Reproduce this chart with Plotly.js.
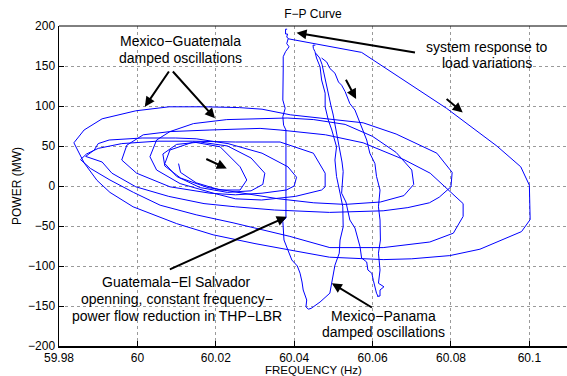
<!DOCTYPE html>
<html>
<head>
<meta charset="utf-8">
<script src="https://cdn.plot.ly/plotly-3.0.1.min.js"></script>
<style>html,body{margin:0;padding:0;background:#fff;}#chart{width:567px;height:376px;}</style>
</head>
<body>
<div id="chart"></div>
<script>
// ---- data (frequency in Hz, power in MW) ----
const loadRespF = [60.0385,60.0475,60.0572,60.0665,60.0789,60.0917,60.0978,60.1000,60.1002,60.0980,60.0950,60.0874,60.0797,60.0700,60.0627,60.0490,60.0389,60.0300,60.0193,60.0100,59.9989,59.9930,59.9897,59.9864,59.9838,59.9864,59.9910,59.9996,60.0081,60.0170,60.0260,60.0318,60.0390];
const loadRespP = [184,176,167,137,97,50,24,1,-42,-57,-63,-79,-87,-91,-92,-89,-80,-72,-61,-47,-26,-8,7,29,54,70,84,94,99,99,98,96,89];

const mgOscF = [60.0390,60.0490,60.0576,60.0660,60.0764,60.0803,60.0800,60.0770,60.0745,60.0690,60.0627,60.0490,60.0350,60.0250,60.0170,60.0080,59.9996,59.9935,59.9910,59.9868,59.9890,59.9900,59.9928,60.0012,60.0098,60.0150,60.0231,60.0318,60.0384,60.0406,60.0400,60.0380,60.0318,60.0250,60.0185,60.0083,59.9998,59.9960,59.9973,60.0015,60.0083,60.0185,60.0313,60.0364,60.0480,60.0576,60.0680,60.0747,60.0785,60.0831,60.0831,60.0806,60.0746,60.0627,60.0491,60.0389,60.0244,60.0150,60.0058,59.9990,59.9930,59.9880,59.9855,59.9870,59.9900,59.9960,60.0050,60.0140,60.0250,60.0364,60.0449,60.0479,60.0479,60.0470,60.0403,60.0317,60.0250,60.0194,60.0109,60.0049,60.0032,60.0049,60.0083,60.0143,60.0228,60.0313,60.0382,60.0450,60.0530,60.0600,60.0660,60.0700,60.0705,60.0680,60.0620,60.0530,60.0450,60.0360,60.0250,60.0180,60.0110,60.0070,60.0065,60.0100,60.0160,60.0230,60.0290,60.0325,60.0320,60.0290,60.0230,60.0160,60.0100,60.0070,60.0083,60.0143,60.0211,60.0262,60.0279,60.0262,60.0211,60.0150,60.0110,60.0105];
const mgOscP = [89,84,79,65,41,17,-1,-14,-21,-27,-31,-33,-30,-26,-22,-13,-1,16,30,37,45,53,57.5,60,60,59,53,41,24,11,0,-5,-9,-11,-9,-1,16,32.5,51,64,68,70,72,70,64,54,33,16,-1,-22,-38,-59,-70,-77,-77,-63,-46,-36,-24,-8,7.5,22,33,40,47,53,56,56,55,55,41,16,-1,-5,-13,-17.5,-16,-9,3,20,36.6,57.5,68,78,83,84.6,85,83,77,62,42,20,2,-12,-20,-23,-21,-16,-8,-2,10,25,40,52,55,50,35,16,2,-6,-8,-2,12,28,45,55,49,24,7.5,-5,-5,4,17,28];

const gesF = [60.0382,60.0378,60.0378,60.0383,60.0381,60.0385,60.0381,60.0387,60.0378,60.0372,60.0372,60.0371,60.0371,60.0377,60.0371,60.0373,60.0379,60.0379,60.0371,60.0374,60.0385,60.0394,60.0408,60.0415,60.0420,60.0423,60.0432,60.0430,60.0436,60.0443,60.0449];
const gesP = [196,196,190,190,186,184.6,178,174,168,161.6,145,126,107.5,97,86.6,76,70,-40,-44,-67.5,-80,-92.5,-100,-109,-120,-130,-142.5,-151,-154,-153,-151];

const mpLeftF = [60.0449,60.0466,60.0491,60.0496,60.0500,60.0504,60.0515,60.0517,60.0525,60.0524,60.0517,60.0508,60.0504,60.0508,60.0496,60.0487,60.0479,60.0479,60.0470,60.0466,60.0457,60.0453,60.0449,60.0448,60.0454];
const mpLeftP = [-151,-145,-134,-121,-109,-99,-84,-67.5,-51,-26,-9,12,32.5,49,70,82.5,99,116,132.5,149,160,168,172,176,176];

const mpMidF = [60.0455,60.0465,60.0471,60.0476,60.0480,60.0484,60.0489,60.0494,60.0499,60.0503,60.0507,60.0512,60.0517,60.0522,60.0525,60.0521,60.0532,60.0537,60.0542,60.0555,60.0563,60.0568,60.0572,60.0585,60.0588,60.0598,60.0602,60.0606,60.0610,60.0614];
const mpMidP = [166,160,152,140,130,122,110,100,90,80,72,58,44,30,18,-9,-20,-32,-42.5,-52.5,-67.5,-76,-90,-95,-105,-109,-118,-126,-134,-138];

const mpRightF = [60.0470,60.0483,60.0491,60.0504,60.0513,60.0521,60.0530,60.0542,60.0555,60.0568,60.0576,60.0585,60.0593,60.0606,60.0610,60.0619,60.0615,60.0619,60.0620,60.0615,60.0619,60.0615,60.0629,60.0619,60.0619,60.0612];
const mpRightP = [160,155,147,141,130,126,118,103,95,78,70,57.5,41,28,12,-5,-26,-42.5,-67.5,-84,-105,-121.6,-126,-130,-137.5,-138];

const xTickVals = [59.98,60,60.02,60.04,60.06,60.08,60.1];
const xTickText = ['59.98','60','60.02','60.04','60.06','60.08','60.1'];
const yTickVals = [-200,-150,-100,-50,0,50,100,150,200];
const yTickText = ['\u2212200','\u2212150','\u2212100','\u221250','0','50','100','150','200'];

// ---- chart ----
const lineStyle = {color:'#0000ff', width:1};
const series = [[loadRespF,loadRespP],[mgOscF,mgOscP],[gesF,gesP],[mpLeftF,mpLeftP],[mpMidF,mpMidP],[mpRightF,mpRightP]];
const traces = series.map(s => ({x:s[0], y:s[1], type:'scatter', mode:'lines', line:lineStyle, hoverinfo:'skip', showlegend:false}));

const FONT = 'Liberation Sans, Arial, Helvetica, sans-serif';
function arrow(hx, hy, tx, ty){
  return {x:hx, y:hy, ax:tx, ay:ty, xref:'x', yref:'y', axref:'x', ayref:'y', text:'', showarrow:true,
          arrowhead:2, arrowsize:1, arrowwidth:2, arrowcolor:'#000', standoff:0, startstandoff:0};
}
function label(txt, x, y){
  return {x:x, y:y, xref:'x', yref:'y', text:txt, showarrow:false, xanchor:'center', yanchor:'middle',
          font:{family:FONT, size:14, color:'#000'}};
}
const annotations = [
  arrow(60.0019, 99, 60.0083, 145),
  arrow(60.0198, 84.6, 60.0087, 145),
  arrow(60.0406, 191.6, 60.0712, 166.6),
  arrow(60.0830, 92, 60.0785, 110.4),
  arrow(60.0558, 108.75, 60.0530, 134.6),
  arrow(60.0228, 22, 60.0172, 34.6),
  arrow(60.0381, -38.4, 60.0079, -105),
  arrow(60.0496, -121.6, 60.0602, -153),
  label('Mexico\u2212Guatemala', 60.01095, 181.25),
  label('damped oscillations', 60.01095, 160.6),
  label('system response to', 60.0893, 173.75),
  label('load variations', 60.0893, 153.75),
  label('Guatemala\u2212El Salvador', 60.0101, -120),
  label('openning, constant frequency\u2212', 60.0102, -141.25),
  label('power flow reduction in THP\u2212LBR', 60.0102, -161.9),
  label('Mexico\u2212Panama', 60.0628, -163),
  label('damped oscillations', 60.0628, -183),
  // x-axis title, placed at the bottom edge of the picture
  {x:0.5, y:-31/320, xref:'paper', yref:'paper', text:'FREQUENCY (Hz)', showarrow:false, borderpad:0,
   xanchor:'center', yanchor:'bottom', font:{family:FONT, size:11.5, color:'#000'}}
];

const axisCommon = {
  showline:true, linecolor:'#000', linewidth:1.5, mirror:false,
  ticks:'inside', ticklen:5, tickcolor:'#000', tickwidth:1,
  showgrid:true, gridcolor:'#9a9a9a', griddash:'dot', gridwidth:1,
  zeroline:false, automargin:false,
  tickfont:{family:FONT, size:12, color:'#000'}
};

const layout = {
  width:567, height:376,
  margin:{l:59, r:0, t:26, b:30, pad:0},
  paper_bgcolor:'#fff', plot_bgcolor:'#fff',
  font:{family:FONT, size:12, color:'#000'},
  title:{text:'F\u2212P Curve', x:0.5, xref:'paper', y:1-14/376, yref:'container', xanchor:'center', yanchor:'middle',
         font:{family:FONT, size:12, color:'#000'}},
  xaxis:Object.assign({}, axisCommon, {range:[59.98, 60.1096], tickmode:'array', tickvals:xTickVals, ticktext:xTickText}),
  yaxis:Object.assign({}, axisCommon, {range:[-200,200], tickmode:'array', tickvals:yTickVals, ticktext:yTickText,
         title:{text:'POWER (MW)', standoff:4, font:{family:FONT, size:12, color:'#000'}}}),
  shapes:[{type:'line', xref:'paper', yref:'paper', x0:0, x1:1, y0:1, y1:1, line:{color:'#000', width:1}}],
  annotations:annotations
};

Plotly.newPlot('chart', traces, layout, {staticPlot:true, displayModeBar:false});
</script>
</body>
</html>
